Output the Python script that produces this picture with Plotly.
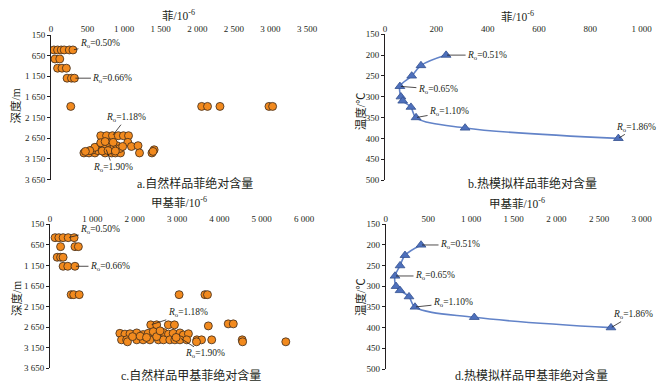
import plotly.graph_objects as go

# ---------------- data ----------------
# a: natural samples, phenanthrene (10^-6) vs depth (m)
a_phen = [40, 90, 140, 180, 250, 300,
          55, 120,
          90, 150, 210,
          220, 280, 320,
          270, 2060, 2140, 2310, 2980, 3030,
          680, 760, 840, 920, 990, 1060,
          1050, 1100, 1190, 1210, 1380, 1410, 1395,
          450, 520, 600, 740, 830, 880, 950,
          620, 660, 700, 720, 760, 800, 820, 860, 900, 940, 980,
          640, 700, 780, 880, 560, 600, 680, 740, 850, 530, 470]
a_depth = [512, 512, 512, 512, 512, 512,
           730, 730,
           954, 954, 954,
           1196, 1196, 1196,
           1880, 1880, 1880, 1880, 1880, 1880,
           2589, 2589, 2589, 2589, 2589, 2589,
           2750, 2850, 2830, 3007, 3007, 2930, 2970,
           3007, 3007, 3007, 3007, 3007, 3007, 3007,
           2900, 2850, 2800, 2880, 2850, 2780, 2920, 2870, 2830, 2900, 2850,
           2950, 2960, 2950, 2960, 2940, 2870, 2760, 2730, 2750, 2950, 2970]

# b: pyrolysis samples, phenanthrene vs temperature
b_phen = [238, 140, 104, 58, 62, 69, 101, 121, 312, 909]
b_temp = [200, 225, 250, 275, 300, 310, 325, 350, 375, 400]

# c: natural samples, methylphenanthrene vs depth
c_mp = [120, 210, 310, 430, 570,
        250, 590, 670,
        170, 250, 310,
        310, 420, 590,
        500, 560, 690, 3050, 3660, 3720,
        2380, 2520, 2795, 2940, 3740, 4210, 4330,
        1650, 1770, 1890, 2050, 2200, 2320, 2440, 2680, 2800, 2910, 3070, 3150, 3270,
        1690, 1810, 2050, 2200, 2360, 2560, 2680, 2830, 2950, 3070, 3230, 3470, 3580, 3820, 4540,
        1830, 3460, 4550, 5570, 1950, 2130, 2280, 2520, 2600, 2980]
c_depth = [475, 475, 475, 475, 475,
           693, 693, 693,
           951, 951, 951,
           1170, 1170, 1170,
           1860, 1860, 1860, 1860, 1860, 1860,
           2594, 2594, 2594, 2594, 2620, 2570, 2570,
           2800, 2820, 2810, 2790, 2830, 2800, 2760, 2780, 2820, 2800, 2790, 2840, 2810,
           2958, 2958, 2958, 2958, 2958, 2958, 2958, 2958, 2958, 2958, 2958, 2958, 2958, 2958, 2958,
           3006, 3006, 3006, 3006, 2880, 2870, 2900, 2880, 2740, 2900]

# d: pyrolysis samples, methylphenanthrene vs temperature
d_mp = [414, 226, 168, 109, 121, 168, 273, 343, 1038, 2640]
d_temp = [200, 225, 250, 275, 300, 310, 325, 350, 375, 400]

depth_ticks = [150, 650, 1150, 1650, 2150, 2650, 3150, 3650]
temp_ticks = [150, 200, 250, 300, 350, 400, 450, 500]

# ---------------- style ----------------
INK = '#231F20'
ORANGE = '#F28A1E'
BLUE = '#4E70BC'
LINE_BLUE = '#6283C8'
NUM_FONT = '"Liberation Serif", "Times New Roman", serif'
CJK_FONT = '"Liberation Serif", "Noto Sans CJK SC", serif'

# page body has an 8px margin; size the figure so page = 668 x 390
OFF = 8
W, H = 668 - 2 * OFF, 390 - 2 * OFF

fig = go.Figure()

circ = dict(size=8, color=ORANGE, line=dict(color='#3B2A1C', width=0.8))
tri = dict(size=8.5, symbol='triangle-up', color=BLUE, line=dict(color='#34508F', width=0.8))

fig.add_trace(go.Scatter(x=a_phen, y=a_depth, mode='markers', marker=circ,
                         xaxis='x', yaxis='y', showlegend=False))
fig.add_trace(go.Scatter(x=b_phen, y=b_temp, mode='lines+markers', marker=tri,
                         line=dict(color=LINE_BLUE, width=1.6, shape='spline', smoothing=1.0),
                         xaxis='x2', yaxis='y2', showlegend=False))
fig.add_trace(go.Scatter(x=c_mp, y=c_depth, mode='markers', marker=circ,
                         xaxis='x3', yaxis='y3', showlegend=False))
fig.add_trace(go.Scatter(x=d_mp, y=d_temp, mode='lines+markers', marker=tri,
                         line=dict(color=LINE_BLUE, width=1.6, shape='spline', smoothing=1.0),
                         xaxis='x4', yaxis='y4', showlegend=False))


def px2fx(p):
    return (p - OFF) / W


def px2fy(p):
    return 1 - (p - OFF) / H


tickfont = dict(family=NUM_FONT, size=9, color=INK)


def xax(dom, rng, dtick, anchor):
    return dict(domain=dom, range=rng, dtick=dtick, tick0=0, side='top', anchor=anchor,
                showgrid=False, zeroline=False, showline=False, ticks='', automargin=False,
                tickformat=',', tickfont=tickfont)


def yax(dom, rng, vals, anchor):
    return dict(domain=dom, range=rng, tickvals=vals, anchor=anchor, automargin=False,
                showgrid=False, zeroline=False, showline=True, linecolor=INK, linewidth=1,
                ticks='outside', ticklen=3, tickcolor=INK, tickwidth=1,
                tickformat=',', tickfont=tickfont)


fig.update_layout(
    width=W, height=H, margin=dict(l=0, r=0, t=0, b=0, autoexpand=False),
    paper_bgcolor='white', plot_bgcolor='white', separators='. ',
    xaxis=xax([px2fx(51), px2fx(307)], [0, 3500], 500, 'y'),
    yaxis=yax([px2fy(179.5), px2fy(35)], [3650, 150], depth_ticks, 'x'),
    xaxis2=xax([px2fx(385), px2fx(641.7)], [0, 1000], 200, 'y2'),
    yaxis2=yax([px2fy(180), px2fy(34.3)], [500, 150], temp_ticks, 'x2'),
    xaxis3=xax([px2fx(50), px2fx(304)], [0, 6000], 1000, 'y3'),
    yaxis3=yax([px2fy(368.3), px2fy(224.3)], [3650, 150], depth_ticks, 'x3'),
    xaxis4=xax([px2fx(385.7), px2fx(641.7)], [0, 3000], 500, 'y4'),
    yaxis4=yax([px2fy(369), px2fy(224.3)], [500, 150], temp_ticks, 'x4'),
)

ann = []

# titles / captions
def text_ann(txt, xp, yp, size, angle=0):
    ann.append(dict(text=txt, x=px2fx(xp), y=px2fy(yp), xref='paper', yref='paper',
                    showarrow=False, xanchor='center', yanchor='middle', textangle=angle,
                    font=dict(family=CJK_FONT, size=size, color=INK)))

text_ann('菲/10<sup>-6</sup>', 178.7, 15, 11.5)
text_ann('菲/10<sup>-6</sup>', 517.5, 16.5, 11.5)
text_ann('甲基菲/10<sup>-6</sup>', 179, 202, 11.5)
text_ann('甲基菲/10<sup>-6</sup>', 516.7, 203, 11.5)
text_ann('a.自然样品菲绝对含量', 194.7, 183.3, 12)
text_ann('b.热模拟样品菲绝对含量', 532.5, 183.3, 12)
text_ann('c.自然样品甲基菲绝对含量', 190.8, 375.5, 12)
text_ann('d.热模拟样品甲基菲绝对含量', 531.7, 375.5, 12)
text_ann('深度/m', 15, 106.5, 11.5, -90)
text_ann('深度/m', 16, 299, 11.5, -90)
text_ann('温度/℃', 360.5, 111.7, 11.5, -90)
text_ann('温度/℃', 360.5, 297.5, 11.5, -90)

# Ro labels with leader lines
def ro(label, xv, yv, ax, ay, xr, yr):
    ann.append(dict(text='<i>R</i><sub>o</sub>=' + label, x=xv, y=yv, xref=xr, yref=yr,
                    showarrow=True, arrowhead=0, arrowwidth=0.8, arrowcolor=INK,
                    ax=ax, ay=ay, standoff=1,
                    font=dict(family=NUM_FONT, size=9.5, color=INK)))

ro('0.50%', 300, 512, 27, -6, 'x', 'y')
ro('0.66%', 320, 1196, 38, 0, 'x', 'y')
ro('1.18%', 840, 2589, 14, -18, 'x', 'y')
ro('1.90%', 750, 2900, 7, 19, 'x', 'y')

ro('0.51%', 238, 200, 41, 0, 'x2', 'y2')
ro('0.65%', 58, 275, 38, 3, 'x2', 'y2')
ro('1.10%', 121, 350, 33, -6, 'x2', 'y2')
ro('1.86%', 909, 400, 18, -11, 'x2', 'y2')

ro('0.50%', 430, 475, 32, -8, 'x3', 'y3')
ro('0.66%', 590, 1170, 35, 0, 'x3', 'y3')
ro('1.18%', 2380, 2594, 37, -12, 'x3', 'y3')
ro('1.90%', 3070, 2910, 25, 16, 'x3', 'y3')

ro('0.51%', 414, 200, 39, 0, 'x4', 'y4')
ro('0.65%', 109, 275, 40, 0, 'x4', 'y4')
ro('1.10%', 343, 350, 38, -4, 'x4', 'y4')
ro('1.86%', 2640, 400, 22, -13, 'x4', 'y4')

fig.update_layout(annotations=ann)

fig.write_html('out.html')
